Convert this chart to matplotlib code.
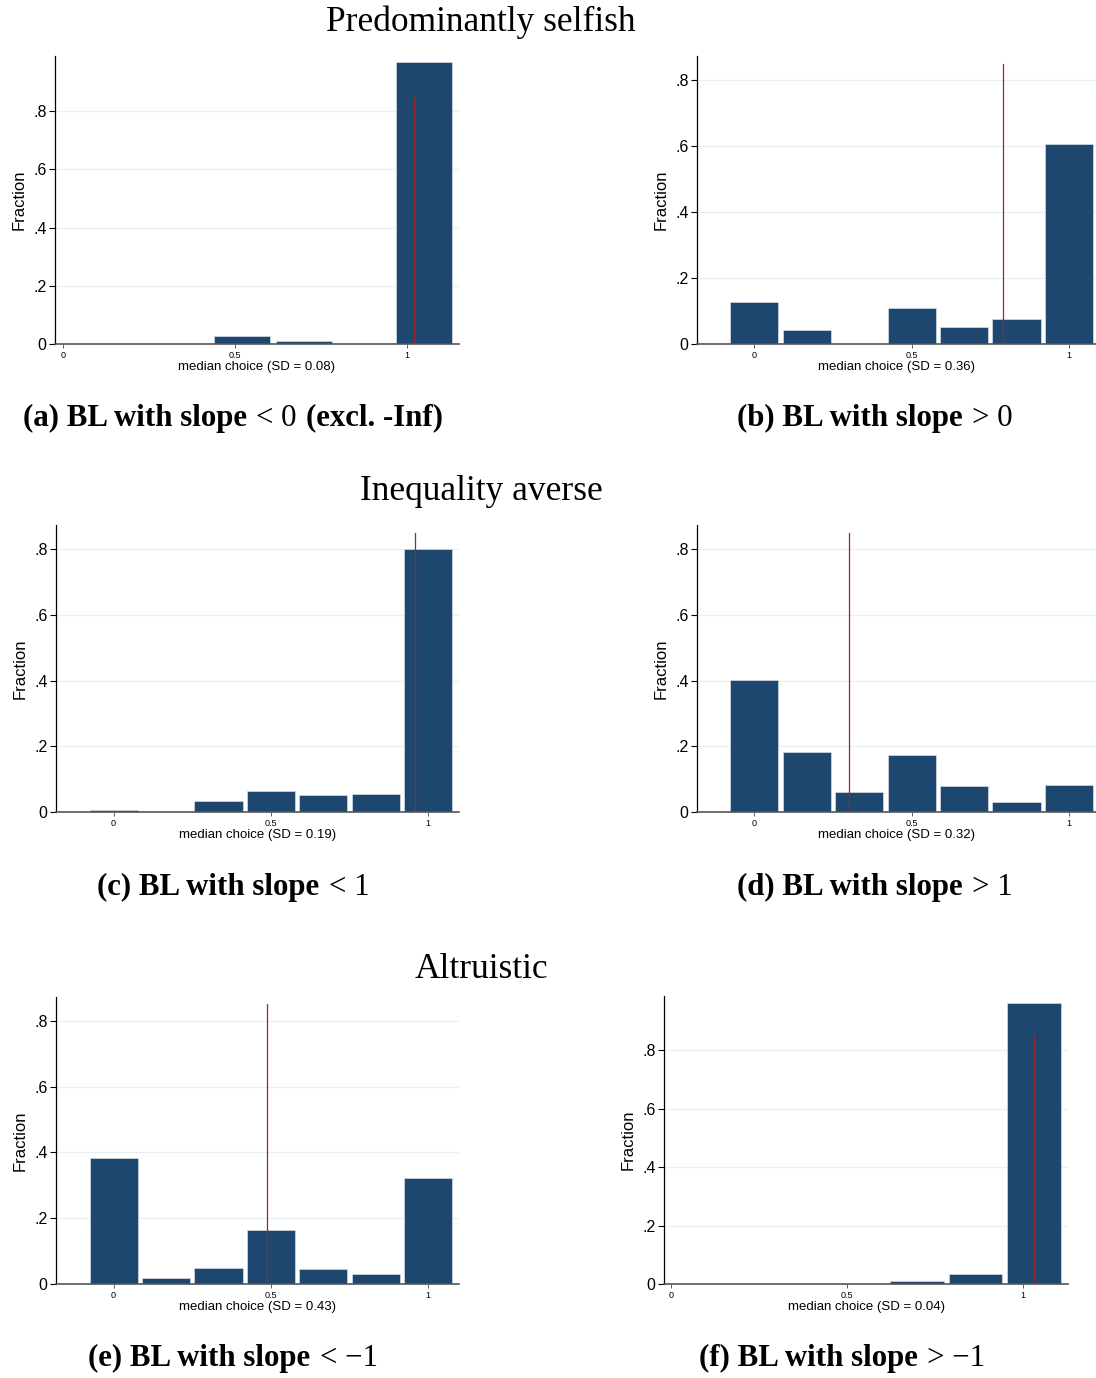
import numpy as np
import matplotlib
matplotlib.use("Agg")
import matplotlib.pyplot as plt
from matplotlib.offsetbox import TextArea, HPacker, AnnotationBbox

plt.rcParams['font.family'] = ['Liberation Sans', 'DejaVu Sans']

# bar centres (median choice) and fractions, per panel
centers_a = [0.52, 0.70, 0.875, 1.05]
frac_a = [0.027, 0.010, 0.0, 0.968]
centers_b = [0, 1/6, 2/6, 3/6, 4/6, 5/6, 1]
frac_b = [0.126, 0.042, 0.0, 0.108, 0.051, 0.075, 0.605]
centers_c = [0, 1/6, 2/6, 3/6, 4/6, 5/6, 1]
frac_c = [0.006, 0.0, 0.032, 0.064, 0.052, 0.055, 0.800]
centers_d = [0, 1/6, 2/6, 3/6, 4/6, 5/6, 1]
frac_d = [0.402, 0.183, 0.062, 0.174, 0.079, 0.031, 0.081]
centers_e = [0, 1/6, 2/6, 3/6, 4/6, 5/6, 1]
frac_e = [0.383, 0.019, 0.048, 0.163, 0.045, 0.029, 0.323]
centers_f = [0.698, 0.864, 1.031]
frac_f = [0.011, 0.033, 0.960]

# vertical reference line (mean choice)
vline = {'a': 1.019, 'b': 0.791, 'c': 0.958, 'd': 0.302, 'e': 0.489, 'f': 1.03}
sd = {'a': '0.08', 'b': '0.36', 'c': '0.19', 'd': '0.32', 'e': '0.43', 'f': '0.04'}

# caption pieces: (bold part, relation in regular weight, trailing bold part)
captions = {
    'a': ('(a) BL with slope', '< 0', '(excl. -Inf)'),
    'b': ('(b) BL with slope', '> 0', ''),
    'c': ('(c) BL with slope', '< 1', ''),
    'd': ('(d) BL with slope', '> 1', ''),
    'e': ('(e) BL with slope', '< \u22121', ''),
    'f': ('(f) BL with slope', '> \u22121', ''),
}
sections = ['Predominantly selfish', 'Inequality averse', 'Altruistic']

W, H = 1096, 1378
fig = plt.figure(figsize=(W / 100, H / 100), dpi=100)

def box(x0, x1, ytop, ybot):
    return [x0 / W, 1 - ybot / H, (x1 - x0) / W, (ybot - ytop) / H]

panels = [
    ('a', centers_a, frac_a, 0.163, box(55, 459, 56, 344), (-0.023, 1.151), 0.99),
    ('b', centers_b, frac_b, 0.153, box(697, 1096, 56, 344), (-0.182, 1.086), 0.873),
    ('c', centers_c, frac_c, 0.153, box(56, 459, 525, 812), (-0.183, 1.098), 0.874),
    ('d', centers_d, frac_d, 0.153, box(697, 1096, 525, 812), (-0.182, 1.086), 0.874),
    ('e', centers_e, frac_e, 0.153, box(56, 459, 997, 1284), (-0.183, 1.098), 0.872),
    ('f', centers_f, frac_f, 0.153, box(664, 1068, 996, 1284), (-0.021, 1.127), 0.985),
]

bar_col = '#1d476f'
for key, cx, fr, bw, pos, xl, ytop in panels:
    ax = fig.add_axes(pos)
    ax.set_axisbelow(True)
    ax.yaxis.grid(True, color='#e8f0f2', lw=0.9)
    ax.bar(cx, fr, width=bw, color=bar_col, edgecolor='#d5dee6', linewidth=0.5)
    ax.axvline(vline[key], ymin=0, ymax=0.85 / ytop, color='#962a2a', lw=0.9)
    ax.set_xlim(*xl)
    ax.set_ylim(0, ytop)
    ax.set_yticks([0, 0.2, 0.4, 0.6, 0.8])
    ax.set_yticklabels(['0', '.2', '.4', '.6', '.8'], fontsize=11.5)
    ax.set_xticks([0, 0.5, 1])
    ax.set_xticklabels(['0', '0.5', '1'], fontsize=6.5)
    ax.tick_params(axis='y', length=4, width=0.8, pad=2)
    ax.tick_params(axis='x', length=3, width=0.6, pad=2, color='#444444')
    for s in ['top', 'right']:
        ax.spines[s].set_visible(False)
    ax.spines['left'].set_linewidth(0.9)
    ax.spines['bottom'].set_linewidth(1.2)
    ax.spines['bottom'].set_color('#555555')
    ax.set_ylabel('Fraction', fontsize=12, labelpad=5)
    ax.set_xlabel('median choice (SD = %s)' % sd[key], fontsize=9.5, labelpad=1)

cap_pos = {'a': (233, 418), 'b': (875, 418), 'c': (233, 887), 'd': (875, 887),
           'e': (233, 1358), 'f': (842, 1358)}
bold = dict(family='Liberation Serif', fontsize=22.2, fontweight='bold')
reg = dict(family='Liberation Serif', fontsize=22.2)
for key, (x, y) in cap_pos.items():
    b1, rel, b2 = captions[key]
    parts = [TextArea(b1, textprops=bold), TextArea(rel, textprops=reg)]
    if b2:
        parts.append(TextArea(b2, textprops=bold))
    pack = HPacker(children=parts, align='baseline', pad=0, sep=7)
    ab = AnnotationBbox(pack, (x / W, 1 - y / H), xycoords='figure fraction',
                        frameon=False, box_alignment=(0.5, 0.5), pad=0)
    fig.add_artist(ab)

for name, y in zip(sections, [22, 491, 970]):
    fig.text(481 / W, 1 - y / H, name, ha='center', va='center', fontsize=25.5,
             family='Liberation Serif')

fig.savefig('out.png', dpi=100)
